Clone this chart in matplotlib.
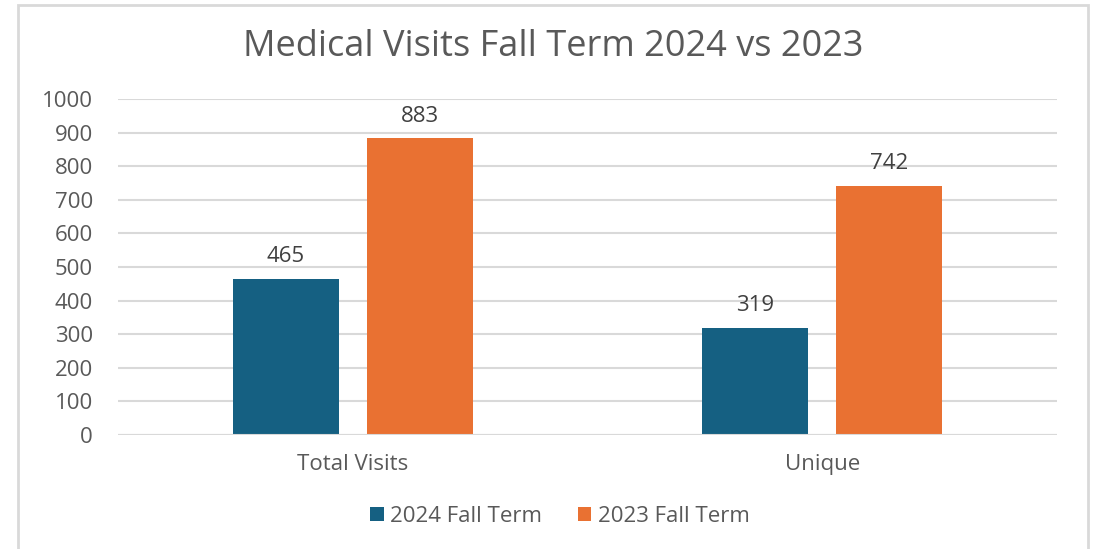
import matplotlib
matplotlib.use('Agg')
import matplotlib.pyplot as plt
import numpy as np
from matplotlib.patches import Rectangle

# Data
categories = ['Total Visits', 'Unique']
series_names = ['2024 Fall Term', '2023 Fall Term']
values_2024 = [465, 319]
values_2023 = [883, 742]
y_ticks = [0, 100, 200, 300, 400, 500, 600, 700, 800, 900, 1000]

BLUE = '#156082'
ORANGE = '#E97132'
TEXT = '#595959'
GRID = '#D9D9D9'

plt.rcParams['font.family'] = ['Open Sans', 'DejaVu Sans']

fig = plt.figure(figsize=(10.96, 5.49), dpi=100)
ax = fig.add_axes([0.1077, 0.2077, 0.8567, 0.612])

# Chart border
fig.patches.append(Rectangle((18 / 1096, -0.05), 1070 / 1096, 1.05 - 5 / 549,
                             transform=fig.transFigure, fill=False,
                             edgecolor='#D9D9D9', linewidth=2))

x = np.arange(len(categories))
width = 0.226
offset = 0.143
b1 = ax.bar(x - offset, values_2024, width, color=BLUE, label=series_names[0], zorder=3)
b2 = ax.bar(x + offset, values_2023, width, color=ORANGE, label=series_names[1], zorder=3)

for bars in (b1, b2):
    for rect in bars:
        ax.annotate('{}'.format(int(rect.get_height())),
                    (rect.get_x() + rect.get_width() / 2, rect.get_height()),
                    xytext=(0, 16), textcoords='offset points',
                    ha='center', va='center', fontsize=16, color='#404040')

ax.set_xlim(-0.5, 1.5)
ax.set_ylim(0, 1000)
ax.set_yticks(y_ticks)
ax.set_xticks(x)
ax.set_xticklabels(categories)
ax.tick_params(axis='y', length=0, pad=18, labelsize=16, labelcolor=TEXT)
ax.tick_params(axis='x', length=0, pad=14, labelsize=16, labelcolor=TEXT)
ax.grid(axis='y', color=GRID, linewidth=1.5, zorder=0)
for s in ax.spines.values():
    s.set_visible(False)
ax.axhline(0, color=GRID, linewidth=1.5, zorder=4)

fig.text(0.505, 1 - 47 / 549, 'Medical Visits Fall Term 2024 vs 2023',
         ha='center', va='center', fontsize=26, color=TEXT)

fig.legend(handles=[b1, b2], loc='center', bbox_to_anchor=(0.511, 1 - 516 / 549),
           ncol=2, frameon=False, fontsize=16, labelcolor=TEXT,
           handlelength=0.6, handleheight=0.6, handletextpad=0.3, columnspacing=1.6)

fig.savefig('out.png', dpi=100, facecolor='white')
